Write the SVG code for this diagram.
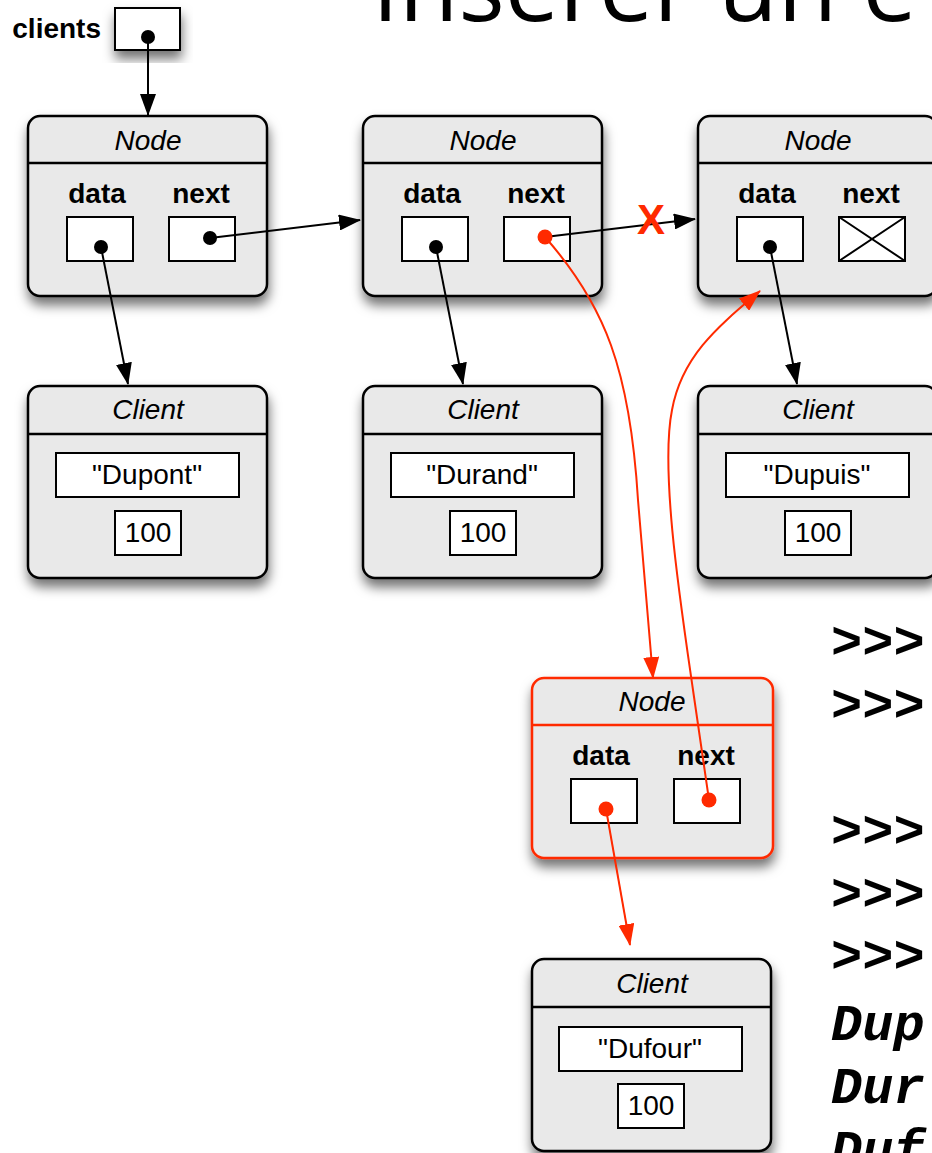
<svg xmlns="http://www.w3.org/2000/svg" width="932" height="1153" viewBox="0 0 932 1153">
  <defs>
    <filter id="shadow" x="-20%" y="-20%" width="140%" height="150%">
      <feDropShadow dx="1" dy="8" stdDeviation="6" flood-color="#000" flood-opacity="0.55"/>
    </filter>
    <marker id="arrow" markerUnits="userSpaceOnUse" markerWidth="22" markerHeight="16" refX="21" refY="8" orient="auto">
      <path d="M0,0 L22,8 L0,16 z" fill="#000"/>
    </marker>
    <marker id="arrow-red" markerUnits="userSpaceOnUse" markerWidth="22" markerHeight="16" refX="21" refY="8" orient="auto">
      <path d="M0,0 L22,8 L0,16 z" fill="#ff2a00"/>
    </marker>
    <style>
      .box { fill: #e9e9e9; stroke: #000; stroke-width: 2.5; }
      .box.red { stroke: #ff2a00; }
      .sep { stroke: #000; stroke-width: 2.5; }
      .sep.red { stroke: #ff2a00; }
      .field { fill: #fff; stroke: #000; stroke-width: 2; }
      .title { font-family: "Liberation Sans", Arial, sans-serif; font-style: italic; font-size: 28px; text-anchor: middle; }
      .label { font-family: "Liberation Sans", Arial, sans-serif; font-weight: bold; font-size: 28px; text-anchor: middle; }
      .val { font-family: "Liberation Sans", Arial, sans-serif; font-size: 28px; text-anchor: middle; }
      .dot { fill: #000; }
      .dot.red { fill: #ff2a00; }
      .link { fill: none; stroke: #000; stroke-width: 2; marker-end: url(#arrow); }
      .link.red { stroke: #ff2a00; marker-end: url(#arrow-red); }
      .code { font-family: "Liberation Mono", "Courier New", monospace; font-weight: bold; font-style: italic; font-size: 52px; }
    </style>
  </defs>

  <rect width="932" height="1153" fill="#fff"/>

  <!-- heading, clipped at the top edge -->
  <text x="372" y="21" font-family="Open Sans, sans-serif" font-size="97" fill="#000">Insérer un é</text>

  <!-- head pointer -->
  <g id="clients">
    <text x="101" y="38" class="label" style="text-anchor:end">clients</text>
    <rect x="115" y="8" width="65" height="42" class="field" filter="url(#shadow)"/>
  </g>

  <!-- list nodes -->
  <g id="node1">
    <rect x="28" y="116" width="239" height="180" rx="12" class="box" filter="url(#shadow)"/>
    <line x1="28" y1="163" x2="267" y2="163" class="sep"/>
    <text x="148" y="150" class="title">Node</text>
    <text x="97" y="203" class="label">data</text>
    <text x="201" y="203" class="label">next</text>
    <rect x="67" y="217" width="66" height="44" class="field"/>
    <rect x="169" y="217" width="66" height="44" class="field"/>
  </g>

  <g id="node2">
    <rect x="363" y="116" width="239" height="180" rx="12" class="box" filter="url(#shadow)"/>
    <line x1="363" y1="163" x2="602" y2="163" class="sep"/>
    <text x="483" y="150" class="title">Node</text>
    <text x="432" y="203" class="label">data</text>
    <text x="536" y="203" class="label">next</text>
    <rect x="402" y="217" width="66" height="44" class="field"/>
    <rect x="504" y="217" width="66" height="44" class="field"/>
  </g>

  <g id="node3">
    <rect x="698" y="116" width="239" height="180" rx="12" class="box" filter="url(#shadow)"/>
    <line x1="698" y1="163" x2="937" y2="163" class="sep"/>
    <text x="818" y="150" class="title">Node</text>
    <text x="767" y="203" class="label">data</text>
    <text x="871" y="203" class="label">next</text>
    <rect x="737" y="217" width="66" height="44" class="field"/>
    <rect x="839" y="217" width="66" height="44" class="field"/>
    <path d="M839,217 L905,261 M905,217 L839,261" stroke="#000" stroke-width="2" fill="none"/>
  </g>

  <g id="node-new">
    <rect x="532" y="678" width="241" height="180" rx="12" class="box red" filter="url(#shadow)"/>
    <line x1="532" y1="725" x2="773" y2="725" class="sep red"/>
    <text x="652" y="711" class="title">Node</text>
    <text x="601" y="765" class="label">data</text>
    <text x="706" y="765" class="label">next</text>
    <rect x="571" y="779" width="66" height="44" class="field"/>
    <rect x="674" y="779" width="66" height="44" class="field"/>
  </g>

  <!-- client records -->
  <g id="client1">
    <rect x="28" y="386" width="239" height="192" rx="12" class="box" filter="url(#shadow)"/>
    <line x1="28" y1="434" x2="267" y2="434" class="sep"/>
    <text x="148" y="419" class="title">Client</text>
    <rect x="56" y="453" width="183" height="44" class="field"/>
    <text x="147" y="484" class="val">"Dupont"</text>
    <rect x="115" y="511" width="66" height="44" class="field"/>
    <text x="148" y="542" class="val">100</text>
  </g>

  <g id="client2">
    <rect x="363" y="386" width="239" height="192" rx="12" class="box" filter="url(#shadow)"/>
    <line x1="363" y1="434" x2="602" y2="434" class="sep"/>
    <text x="483" y="419" class="title">Client</text>
    <rect x="391" y="453" width="183" height="44" class="field"/>
    <text x="482" y="484" class="val">"Durand"</text>
    <rect x="450" y="511" width="66" height="44" class="field"/>
    <text x="483" y="542" class="val">100</text>
  </g>

  <g id="client3">
    <rect x="698" y="386" width="239" height="192" rx="12" class="box" filter="url(#shadow)"/>
    <line x1="698" y1="434" x2="937" y2="434" class="sep"/>
    <text x="818" y="419" class="title">Client</text>
    <rect x="726" y="453" width="183" height="44" class="field"/>
    <text x="817" y="484" class="val">"Dupuis"</text>
    <rect x="785" y="511" width="66" height="44" class="field"/>
    <text x="818" y="542" class="val">100</text>
  </g>

  <g id="client4">
    <rect x="532" y="959" width="239" height="192" rx="12" class="box" filter="url(#shadow)"/>
    <line x1="532" y1="1007" x2="771" y2="1007" class="sep"/>
    <text x="652" y="993" class="title">Client</text>
    <rect x="559" y="1027" width="183" height="44" class="field"/>
    <text x="650" y="1058" class="val">"Dufour"</text>
    <rect x="618" y="1084" width="66" height="44" class="field"/>
    <text x="651" y="1115" class="val">100</text>
  </g>

  <!-- pointers -->
  <g id="connectors">
    <line x1="148" y1="37" x2="148" y2="115" class="link"/>
    <line x1="210" y1="238" x2="360" y2="220" class="link"/>
    <line x1="101" y1="247" x2="128" y2="384" class="link"/>
    <line x1="436" y1="247" x2="463" y2="384" class="link"/>
    <line x1="770" y1="247" x2="797" y2="384" class="link"/>
    <line x1="545" y1="237" x2="695" y2="219" class="link"/>
    <path d="M545,237 C605,305 630,370 638,500 L653,678" class="link red"/>
    <path d="M709,800 L693,690 C680,600 660,470 672,410 C682,355 720,325 760,291" class="link red"/>
    <line x1="606" y1="809" x2="630" y2="945" class="link red"/>
    <text x="651" y="234" font-family="Liberation Sans, Arial, sans-serif" font-weight="bold" font-size="42" fill="#ff2a00" text-anchor="middle">X</text>

    <circle cx="148" cy="37" r="7" class="dot"/>
    <circle cx="101" cy="247" r="7" class="dot"/>
    <circle cx="210" cy="238" r="7" class="dot"/>
    <circle cx="436" cy="247" r="7" class="dot"/>
    <circle cx="545" cy="237" r="7.5" class="dot red"/>
    <circle cx="770" cy="247" r="7" class="dot"/>
    <circle cx="606" cy="809" r="7.5" class="dot red"/>
    <circle cx="709" cy="800" r="7.5" class="dot red"/>
  </g>

  <!-- interpreter session, clipped at the right edge -->
  <g class="code" fill="#000">
    <text x="831" y="658">&gt;&gt;&gt;</text>
    <text x="831" y="721">&gt;&gt;&gt;</text>
    <text x="831" y="847">&gt;&gt;&gt;</text>
    <text x="831" y="910">&gt;&gt;&gt;</text>
    <text x="831" y="972">&gt;&gt;&gt;</text>
    <text x="831" y="1040">Dup</text>
    <text x="831" y="1103">Dur</text>
    <text x="831" y="1166">Duf</text>
  </g>
</svg>
